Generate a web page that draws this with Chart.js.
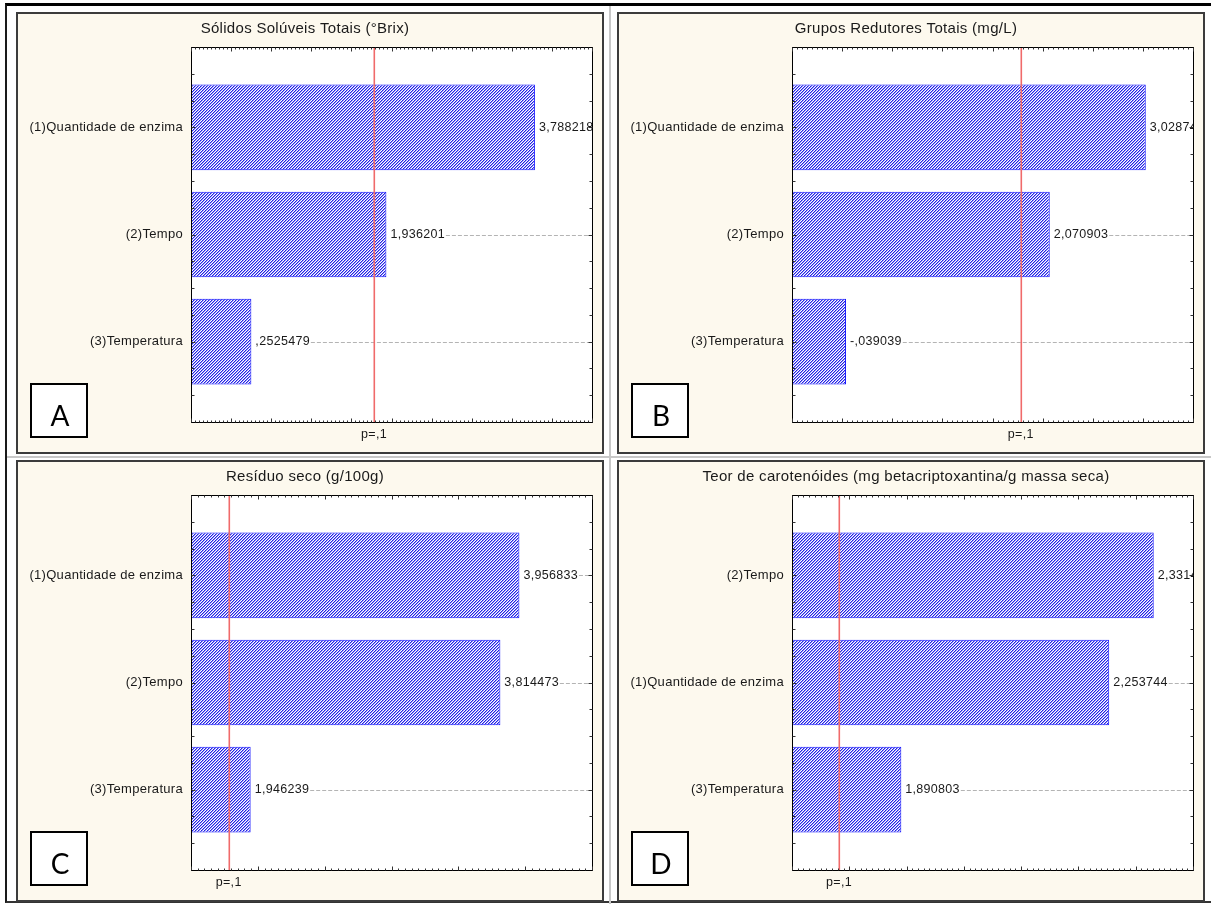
<!DOCTYPE html>
<html lang="pt">
<head>
<meta charset="UTF-8">
<title>Diagramas de Pareto - efeitos padronizados</title>
<script src="https://cdn.jsdelivr.net/npm/chart.js"></script>
<style>
  body { margin: 0; background: #fff; font-family: "Liberation Sans", Arial, sans-serif; }
  #quadro { position: absolute; left: 5px; top: 3px; width: 1210px; height: 900px; box-sizing: border-box;
            border-top: 3px solid #000; border-left: 2px solid #1a1a1a; border-bottom: 2px solid #333; }
  .sep-v { position: absolute; left: 609px; top: 6px; width: 2px; height: 898px; background: #c8c8c8; }
  .sep-h { position: absolute; left: 7px; top: 456px; width: 1204px; height: 2px; background: #c8c8c8; }
  .painel { position: absolute; width: 588px; height: 442px; box-sizing: border-box;
            border: 2px solid #3c3c3c; background: #fdf9ee; }
  .painel canvas { position: absolute; left: 0; top: 0; }
</style>
</head>
<body>
<div id="quadro"></div>
<div class="sep-v"></div>
<div class="sep-h"></div>
<div class="painel" style="left:16px; top:12px;"><canvas id="graficoA" width="584" height="438"></canvas></div>
<div class="painel" style="left:617px; top:12px;"><canvas id="graficoB" width="584" height="438"></canvas></div>
<div class="painel" style="left:16px; top:460px;"><canvas id="graficoC" width="584" height="438"></canvas></div>
<div class="painel" style="left:617px; top:460px;"><canvas id="graficoD" width="584" height="438"></canvas></div>

<script>
// dados (estimativa de efeitos padronizados, |t|)
const fatoresA = ['(1)Quantidade de enzima', '(2)Tempo', '(3)Temperatura'];
const efeitosA = [3.788218, 1.936201, 0.2525479];
const fatoresB = ['(1)Quantidade de enzima', '(2)Tempo', '(3)Temperatura'];
const efeitosB = [3.028744, 2.070903, -0.039039];
const fatoresC = ['(1)Quantidade de enzima', '(2)Tempo', '(3)Temperatura'];
const efeitosC = [3.956833, 3.814473, 1.946239];
const fatoresD = ['(2)Tempo', '(1)Quantidade de enzima', '(3)Temperatura'];
const efeitosD = [2.331417, 2.253744, 1.890803];

const titulos = [
    'Sólidos Solúveis Totais (°Brix)',
    'Grupos Redutores Totais (mg/L)',
    'Resíduo seco (g/100g)',
    'Teor de carotenóides (mg betacriptoxantina/g massa seca)'
];
const letras = ['A', 'B', 'C', 'D'];
const eixoMin = [-0.5, -0.5, 1.5, 1.7];
const eixoMax = [4.5, 3.5, 4.5, 2.4];
const eixoPasso = [0.5, 0.5, 0.5, 0.1];
const tCritico = 1.782;   // t crítico para p = 0,1
const rotuloP = 'p=,1';

const fonte = '"Liberation Sans", Arial, sans-serif';

// formato do Statistica: vírgula decimal, sem zero à esquerda
function formatar(v) {
    const s = String(parseFloat(v.toPrecision(7))).replace('.', ',');
    return s.replace(/^(-?)0,/, '$1,');
}

function hachura(ctx) {
    const c = document.createElement('canvas');
    c.width = 3; c.height = 3;
    const g = c.getContext('2d');
    g.fillStyle = '#ffffff';
    g.fillRect(0, 0, 3, 3);
    for (let i = 0; i < 3; i++) {
        g.fillStyle = '#2020e6';
        g.fillRect(2 - i, i, 1, 1);
        g.fillStyle = '#9a9af4';
        g.fillRect((3 - i) % 3, i, 1, 1);
    }
    return ctx.createPattern(c, 'repeat');
}

function criarGrafico(idCanvas, titulo, letra, fatores, efeitos, xMin, xMax, passo) {
    const ctx = document.getElementById(idCanvas).getContext('2d');

    const pareto = {
        id: 'pareto',
        beforeDraw(chart) {
            const a = chart.chartArea;
            chart.ctx.letterSpacing = '0.3px';
            chart.ctx.save();
            chart.ctx.fillStyle = '#ffffff';
            chart.ctx.fillRect(a.left, a.top, a.right - a.left, a.bottom - a.top);
            chart.ctx.restore();
        },
        afterDatasetsDraw(chart) {
            const c = chart.ctx;
            const a = chart.chartArea;
            const sx = chart.scales.x;
            const sy = chart.scales.y;
            const esq = Math.round(a.left) + 0.5, dir = Math.round(a.right) + 0.5;
            const topo = Math.round(a.top) + 0.5, base = Math.round(a.bottom) + 0.5;

            c.save();
            c.beginPath();
            c.rect(a.left, a.top, a.right - a.left, a.bottom - a.top);
            c.clip();

            // rótulos de valor e linhas tracejadas
            const barras = chart.getDatasetMeta(0).data;
            c.font = '12.5px ' + fonte;
            c.textBaseline = 'middle';
            c.textAlign = 'left';
            barras.forEach((bar, i) => {
                const texto = formatar(efeitos[i]);
                const x0 = bar.x + 4;
                c.fillStyle = '#1a1a1a';
                c.fillText(texto, x0, bar.y);
                const fim = x0 + c.measureText(texto).width + 1;
                if (fim < a.right) {
                    c.strokeStyle = '#b4b4b4';
                    c.lineWidth = 1;
                    c.setLineDash([4, 2]);
                    c.beginPath();
                    c.moveTo(fim, Math.round(bar.y) + 0.5);
                    c.lineTo(a.right, Math.round(bar.y) + 0.5);
                    c.stroke();
                    c.setLineDash([]);
                }
            });

            // linha do t crítico
            const xt = Math.round(sx.getPixelForValue(tCritico));
            c.setLineDash([]);
            c.fillStyle = '#f06a6a';
            c.fillRect(xt - 0.5, a.top, 1.6, a.bottom - a.top);
            c.restore();

            // moldura e marcas internas
            c.save();
            c.strokeStyle = '#000';
            c.lineWidth = 1;
            c.strokeRect(esq, topo, dir - esq, base - topo);

            c.beginPath();
            const n = Math.round((xMax - xMin) / passo);
            for (let k = 0; k <= n * 10; k++) {
                const px = Math.round(sx.getPixelForValue(xMin + k * passo / 10)) + 0.5;
                const len = k % 10 === 0 ? 4 : 2;
                c.moveTo(px, topo); c.lineTo(px, topo + len);
                c.moveTo(px, base); c.lineTo(px, base - len);
            }
            for (let k = -2; k <= (fatores.length - 1) * 4 + 2; k++) {
                const py = Math.round(sy.getPixelForValue(k / 4)) + 0.5;
                const len = k % 4 === 0 ? 4 : 3;
                c.moveTo(esq, py); c.lineTo(esq + len, py);
                c.moveTo(dir, py); c.lineTo(dir - len, py);
            }
            c.strokeStyle = '#333';
            c.stroke();
            c.restore();
        },
        afterDraw(chart) {
            const c = chart.ctx;
            c.save();
            c.letterSpacing = '0px';
            c.fillStyle = '#ffffff';
            c.fillRect(12, 369, 58, 55);
            c.strokeStyle = '#000';
            c.lineWidth = 2;
            c.strokeRect(13, 370, 56, 53);
            c.fillStyle = '#000';
            c.font = '28px Lato, "Open Sans", sans-serif';
            c.textAlign = 'center';
            c.textBaseline = 'alphabetic';
            c.fillText(letra, 42, 411.5);
            c.restore();
        }
    };

    return new Chart(ctx, {
        type: 'bar',
        data: {
            datasets: [{
                data: efeitos.map((v, i) => ({ x: Math.abs(v), y: i })),
                base: xMin,
                backgroundColor: hachura(ctx),
                borderColor: '#1010ff',
                borderWidth: 1,
                borderSkipped: false,
                barPercentage: 0.8,
                categoryPercentage: 1
            }]
        },
        options: {
            indexAxis: 'y',
            responsive: false,
            animation: false,
            layout: { padding: { left: 0, right: 10, top: 0, bottom: 0 } },
            plugins: {
                legend: { display: false },
                tooltip: { enabled: false },
                title: {
                    display: true,
                    text: titulo,
                    color: '#1a1a1a',
                    font: { family: fonte, size: 15, weight: 'normal' },
                    padding: { top: 6, bottom: 9 }
                }
            },
            scales: {
                x: {
                    type: 'linear',
                    min: xMin,
                    max: xMax,
                    offset: false,
                    grid: { display: false, drawTicks: false },
                    border: { display: false },
                    afterBuildTicks: s => { s.ticks = [{ value: tCritico }]; },
                    ticks: {
                        callback: () => rotuloP,
                        autoSkip: false,
                        maxRotation: 0,
                        padding: 5,
                        color: '#1a1a1a',
                        font: { family: fonte, size: 12.5 }
                    },
                    afterFit: s => { s.height = 30; }
                },
                y: {
                    type: 'linear',
                    reverse: true,
                    offset: false,
                    min: -0.75,
                    max: fatores.length - 0.25,
                    grid: { display: false, drawTicks: false, offset: false },
                    border: { display: false },
                    afterBuildTicks: s => { s.ticks = fatores.map((f, i) => ({ value: i })); },
                    ticks: {
                        callback: v => fatores[v],
                        autoSkip: false,
                        padding: 8,
                        color: '#1a1a1a',
                        font: { family: fonte, size: 13 }
                    },
                    afterFit: s => { s.width = 173; }
                }
            }
        },
        plugins: [pareto]
    });
}

criarGrafico('graficoA', titulos[0], letras[0], fatoresA, efeitosA, eixoMin[0], eixoMax[0], eixoPasso[0]);
criarGrafico('graficoB', titulos[1], letras[1], fatoresB, efeitosB, eixoMin[1], eixoMax[1], eixoPasso[1]);
criarGrafico('graficoC', titulos[2], letras[2], fatoresC, efeitosC, eixoMin[2], eixoMax[2], eixoPasso[2]);
criarGrafico('graficoD', titulos[3], letras[3], fatoresD, efeitosD, eixoMin[3], eixoMax[3], eixoPasso[3]);
</script>
</body>
</html>
